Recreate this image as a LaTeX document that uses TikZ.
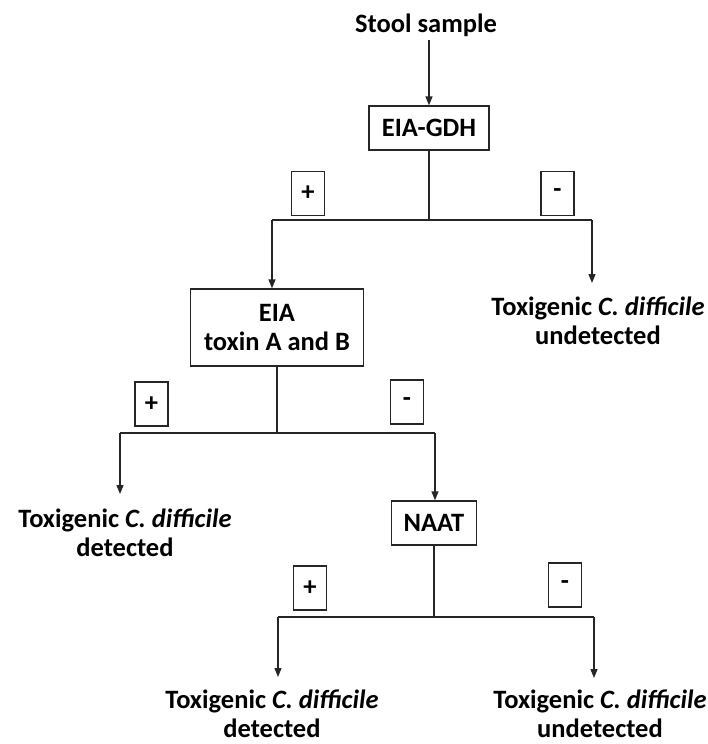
\documentclass[tikz,border=0pt]{standalone}
\usepackage{fontspec}
\setmainfont{Carlito}
\usetikzlibrary{arrows.meta,calc}
\begin{document}
\begin{tikzpicture}[x=1pt,y=-1pt,
  ln/.style={line width=1.3pt, draw=black!85},
  arr/.style={ln,-{Triangle[length=9pt,width=7pt]}},
  txt/.style={font=\fontsize{26.5}{29}\selectfont\bfseries, align=center, inner sep=0pt, text=black},
  boxnode/.style={txt, draw=black!85, line width=1.3pt},
  signbox/.style={boxnode, minimum width=33pt, minimum height=44pt},
]
\useasboundingbox (0,0) rectangle (707,744);
% level 0
\node[txt, anchor=base] (stool) at (426,32) {Stool sample};
\node[boxnode, minimum width=120pt, minimum height=44pt] (gdh) at (429,128) {EIA-GDH};
\draw[arr, shorten <=4pt] (gdh.north |- stool.south) -- (gdh.north);
% level 1
\coordinate (l1) at (272,220);
\coordinate (r1) at (592,220);
\draw[ln] (gdh.south) -- (gdh.south |- l1);
\draw[ln] (l1) -- (r1);
\node[signbox] (p1) at (308,193.5) {+};
\node[signbox] (m1) at (557.5,193.5) {-};
\node[boxnode, minimum width=173pt, minimum height=77pt] (tox) at (277,327.5) {EIA\\toxin A and B};
\draw[arr] (l1) -- (l1 |- tox.north);
\node[txt, anchor=north] (u1) at (598,297) {Toxigenic \textit{C. difficile}\\undetected};
\draw[arr, shorten >=14pt] (r1) -- (r1 |- u1.north);
% level 2
\coordinate (l2) at (120,433);
\coordinate (r2) at (435,433);
\draw[ln] (tox.south) -- (tox.south |- l2);
\draw[ln] (l2) -- (r2);
\node[signbox] (p2) at (151.5,404) {+};
\node[signbox] (m2) at (407,402) {-};
\node[txt, anchor=north] (d1) at (125,509) {Toxigenic \textit{C. difficile}\\detected};
\draw[arr, shorten >=15pt] (l2) -- (l2 |- d1.north);
\node[boxnode, minimum width=85pt, minimum height=44pt] (naat) at (434,523) {NAAT};
\draw[arr] (r2) -- (r2 |- naat.north);
% level 3
\coordinate (l3) at (278,617);
\coordinate (r3) at (594,617);
\draw[ln] (naat.south) -- (naat.south |- l3);
\draw[ln] (l3) -- (r3);
\node[signbox] (p3) at (310,588) {+};
\node[signbox] (m3) at (565,585) {-};
\node[txt, anchor=north] (d2) at (272,690) {Toxigenic \textit{C. difficile}\\detected};
\draw[arr, shorten >=13pt] (l3) -- (l3 |- d2.north);
\node[txt, anchor=north] (u2) at (600,690) {Toxigenic \textit{C. difficile}\\undetected};
\draw[arr, shorten >=12pt] (r3) -- (r3 |- u2.north);
\end{tikzpicture}
\end{document}
